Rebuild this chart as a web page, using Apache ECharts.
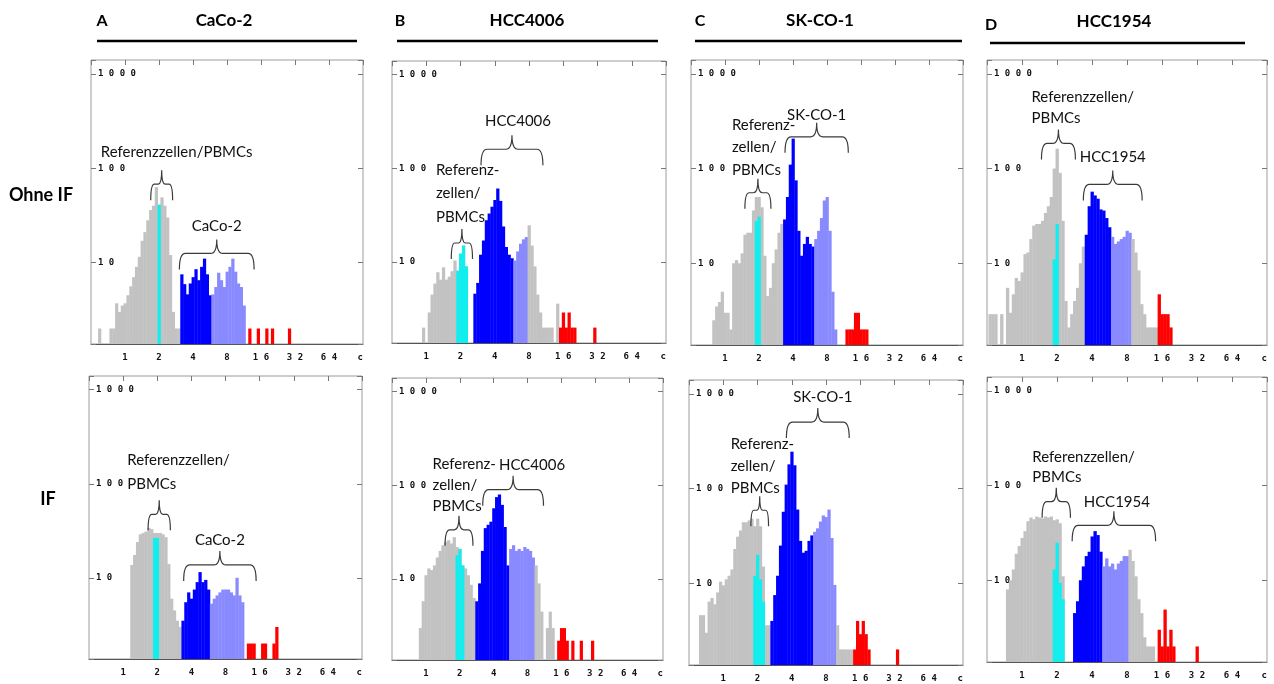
<!DOCTYPE html>
<html>
<head>
<meta charset="utf-8">
<script src="https://cdn.jsdelivr.net/npm/echarts@6/dist/echarts.min.js"></script>
<style>
  html, body { margin: 0; padding: 0; background: #fff; }
  #chart { width: 1274px; height: 684px; }
</style>
</head>
<body>
<div id="chart"></div>
<script>
// histogram bins are 1/12 octave wide: bin k sits at c = 2^(k/12)
const countsA1 = [2,0,0,0,2,2,3.7,3,3.5,3.7, 4.5,5.6,7,9,11.5,17,21,28,36,40, 63,41,49,40,30,12,3,2,2,7.5, 5.9,4.6,6,7,8.5,6.5,9,11,7.5,4.5, 4.6,5.5,7.8,6.5,5.5,8,9,11,8,6, 5.5,3.5,0,2,0,0,2,0,0,2, 0,2,0,0,0,0,0,2]
const countsA2 = [13.7,17.5,24,29,30,31,34,33,30,30, 30,29,27,14,6,4.5,3.5,3,3.5,5.5, 7,6,7.5,9,11.5,9,9.5,7.5,5.3,6, 6.5,7,7.5,7.5,7.5,7,6.5,10,6.5,5.5, 0,2,2,2,0,0,2,2,0,0, 2,3]
const countsB1 = [2,0,2.9,4.5,5.9,7.8,6.5,8.8,6.5,7, 8,10.4,8.1,12.3,15,9,0,0,4.6,6, 12,17,28,33,39,46,61,45,24,14.5, 12,11,10.4,13,15.7,17.5,18.5,24.7,15,9, 4.5,2.9,2,2,2,2,0,3.6,2,2.9, 2,2.9,2,2,0,0,0,0,0,0, 2]
const countsB2 = [3,5.8,11,13,12.5,14,17,20,23,25, 26,24,28,22,21,14,13,11,8.7,6.3, 5.8,9,20,35,38,41,57,75,80,62, 36,14,21,23,20,21,20,22,21,20, 17,14,9,4.5,0,3,4.5,3,0,2.2, 3,3,2.2,0,2.2,0,0,2.2,0,0, 0,2.2]
const countsC1 = [2.5,3.5,3.9,5,3,3,2,10,10.8,10, 12.7,20,21,21,36,50,50,39,12,4.5, 5.5,10,14,21,26,29,50,110,207,75, 22,12,16,19,16,15,18,22,30,46, 50,22,5,2,0,0,0,2,2,2, 3,3,2,2,2]
const countsC2 = [4.6,4.6,3,6.4,7,6,8,10.4,9.5,11, 12,14,23,31,36,44,44,46,48,40, 48,40,15,3.6,3.6,4,7.5,12,25,57, 110,180,245,176,60,28,21,22,28,32, 35,38,45,52,50,60,30,9.6,3.6,2, 2,2,2,2,2,4,2.9,4,2.9,2, 0,0,0,0,0,0,0,0,0,2]
const countsD1 = [2.9,2.9,2.9,0,2.9,0,5.5,3,4.7,7, 6.5,8,12.5,13,18,25,26,26,28,34, 40,50,100,162,90,28,4,2.1,2.9,4, 5.5,10,15,20,40,57,52,48,37,36, 30,24,19,16,17,18,19,22,21,18, 13,8.4,3.7,2.9,2.1,2.1,2.1,2.1,4.7,2.9, 2.9,2.9,2.1]
const countsD2 = [8,10,13,19,23,28,33,42,46,44, 47,46,45,47,46,47,43,44,40,11, 0,0,0,4.5,6,10,14,18,20,29, 33,30,20,14,17,14,15,13,15,16, 18,18,21,16,11,6.3,4.5,2.5,2,2, 2,0,3,2,4.9,2,3,2,0,0, 0,0,0,0,0,2]

// reference cells (cyan), drawn in front
const cyanA1 = [41]
const cyanA2 = [26.6, 26.6]
const cyanB1 = [8.1, 12.3, 15, 9]
const cyanB2 = [18, 21, 14]
const cyanC1 = [28, 31]
const cyanC2 = [12, 20, 11, 6.4]
const cyanD1 = [11, 26]
const cyanD2 = [13, 25, 9.4, 6.3]

const panelCounts = [countsA1, countsA2, countsB1, countsB2, countsC1, countsC2, countsD1, countsD2]
const panelCyan = [cyanA1, cyanA2, cyanB1, cyanB2, cyanC1, cyanC2, cyanD1, cyanD2]
const binStart = [-9, 3, -1, -2, -4, -8, -11, -5]
const cyanStart = [12, 11, 11, 11, 11, 11, 11, 11]
const blueBins = [[20, 30], [21, 30], [17, 30], [18, 29], [21, 31], [17, 31], [22, 30], [18, 27]]
const lightBins = [[31, 42], [31, 42], [31, 35], [30, 38], [32, 39], [32, 39], [31, 37], [28, 36]]
const redFrom = [43, 43, 47, 47, 43, 46, 47, 47]

const xTicks = [1, 2, 4, 8, 16, 32, 64]
const yTicks = [10, 100, 1000]

// brace annotations: c range, count level, label
const bracesA1 = [
  {c1: 1.69, c2: 2.64, y: 67.7, lines: ['Referenzzellen/PBMCs'], align: 'center', dx: 15, dy: -32},
  {c1: 3.03, c2: 13.9, y: 12.5, lines: ['CaCo-2'], align: 'center', dx: 0, dy: -27}
]
const bracesA2 = [
  {c1: 1.66, c2: 2.61, y: 47.3, lines: ['Referenzzellen/', 'PBMCs'], align: 'left', dx: -32, dy: -30, lh: 24},
  {c1: 3.42, c2: 14.9, y: 13.7, lines: ['CaCo-2'], align: 'center', dx: 0, dy: -25}
]
const bracesB1 = [
  {c1: 3.03, c2: 10.6, y: 160, lines: ['HCC4006'], align: 'center', dx: 6, dy: -28},
  {c1: 1.66, c2: 2.55, y: 16, lines: ['Referenz-', 'zellen/', 'PBMCs'], align: 'left', dx: -26, dy: -26, lh: 23.5}
]
const bracesB2 = [
  {c1: 1.48, c2: 2.62, y: 33.6, lines: ['Referenz-', 'zellen/', 'PBMCs'], align: 'left', dx: -26.5, dy: -24, lh: 21},
  {c1: 3.2, c2: 11.1, y: 90, lines: ['HCC4006'], align: 'center', dx: 19, dy: -25}
]
const bracesC1 = [
  {c1: 3.4, c2: 12.35, y: 216, lines: ['SK-CO-1'], align: 'center', dx: 0, dy: -22},
  {c1: 1.5, c2: 2.55, y: 55.5, lines: ['Referenz-', 'zellen/', 'PBMCs'], align: 'left', dx: -26, dy: -23, lh: 22.5}
]
const bracesC2 = [
  {c1: 3.59, c2: 12.8, y: 503, lines: ['SK-CO-1'], align: 'center', dx: 5, dy: -25},
  {c1: 1.75, c2: 2.5, y: 59, lines: ['Referenz-', 'zellen/', 'PBMCs'], align: 'left', dx: -29, dy: -22, lh: 22}
]
const bracesD1 = [
  {c1: 1.47, c2: 2.88, y: 184, lines: ['Referenzzellen/', 'PBMCs'], align: 'left', dx: -27, dy: -25, lh: 21.7},
  {c1: 3.37, c2: 10.8, y: 68, lines: ['HCC1954'], align: 'center', dx: 0, dy: -27}
]
const bracesD2 = [
  {c1: 1.49, c2: 2.61, y: 67.5, lines: ['Referenzzellen/', 'PBMCs'], align: 'left', dx: -24, dy: -25, lh: 20},
  {c1: 2.7, c2: 14.1, y: 38, lines: ['HCC1954'], align: 'center', dx: 3, dy: -23}
]
const panelBraces = [bracesA1, bracesA2, bracesB1, bracesB2, bracesC1, bracesC2, bracesD1, bracesD2]

const columnLetters = ['A', 'B', 'C', 'D']
const columnTitles = ['CaCo-2', 'HCC4006', 'SK-CO-1', 'HCC1954']
const rowTitles = ['Ohne IF', 'IF']

// layout (pixels)
const gridBoxes = [
  [91, 60, 272, 284], [89, 376, 273, 283],
  [392, 61, 274, 282], [392, 378, 271, 282],
  [691, 60, 272, 285], [689, 380, 274, 285],
  [987, 60, 280, 285], [987, 377, 280, 285]
]
const headerPos = [
  {letter: [102, 21], title: [224, 21], line: [97, 357, 41]},
  {letter: [400, 21], title: [527, 21], line: [397, 658, 41]},
  {letter: [700, 21], title: [820, 21], line: [695, 962, 41]},
  {letter: [991, 25], title: [1114, 22], line: [990, 1245, 43]}
]
const rowPos = [[41, 195], [48, 499]]

const COLORS = ['#c2c2c2', '#12eeee', '#0000ff', '#8a8aff', '#ff0000']
const HALF_BIN = Math.pow(2, 1 / 24)
const Y_MIN = 1.37, Y_MAX = 1400
const SPIKE = 14, DROP = 16

function binData(i) {
  const out = []
  panelCounts[i].forEach((v, j) => {
    if (!v) return
    const k = binStart[i] + j
    let code = 0
    if (k >= blueBins[i][0] && k <= blueBins[i][1]) code = 2
    else if (k >= lightBins[i][0] && k <= lightBins[i][1]) code = 3
    else if (k >= redFrom[i]) code = 4
    out.push([Math.pow(2, k / 12), v, code])
  })
  return out
}

function cyanData(i) {
  return panelCyan[i].map((v, j) => [Math.pow(2, (cyanStart[i] + j) / 12), v, 1])
}

function renderBin(params, api) {
  const c = api.value(0), v = api.value(1)
  const p0 = api.coord([c / HALF_BIN, v])
  const p1 = api.coord([c * HALF_BIN, v])
  const cs = params.coordSys
  return {
    type: 'rect',
    shape: {x: p0[0], y: p0[1], width: p1[0] - p0[0] + 0.4, height: cs.y + cs.height - p0[1]},
    style: {fill: COLORS[api.value(2)]}
  }
}

function renderBrace(specs) {
  return function (params, api) {
    const s = specs[api.value(3)]
    const a = api.coord([api.value(0), api.value(2)])
    const b = api.coord([api.value(1), api.value(2)])
    const x1 = a[0], x2 = b[0], y = a[1], xm = (x1 + x2) / 2
    const r = Math.min(6, (x2 - x1) / 6)
    const d = 'M' + x1 + ' ' + (y + DROP) + ' Q' + x1 + ' ' + y + ' ' + (x1 + r) + ' ' + y +
      ' L' + (xm - r) + ' ' + y + ' Q' + xm + ' ' + y + ' ' + xm + ' ' + (y - SPIKE) +
      ' Q' + xm + ' ' + y + ' ' + (xm + r) + ' ' + y +
      ' L' + (x2 - r) + ' ' + y + ' Q' + x2 + ' ' + y + ' ' + x2 + ' ' + (y + DROP)
    const lh = s.lh || 20
    return {
      type: 'group',
      children: [
        {type: 'path', shape: {pathData: d}, style: {fill: 'none', stroke: '#3a3a3a', lineWidth: 1.2}},
        {
          type: 'text', x: xm + s.dx, y: y + s.dy + lh / 2,
          style: {text: s.lines.join('\n'), font: '15px Lato', fill: '#111', align: s.align, verticalAlign: 'bottom', lineHeight: lh}
        }
      ]
    }
  }
}

const spaced = v => String(Math.round(v)).split('').join(' ')
const tickFont = {fontFamily: 'DejaVu Sans Mono', fontSize: 9, fontWeight: 'bold', color: '#111'}

const option = {animation: false, grid: [], xAxis: [], yAxis: [], series: [], graphic: []}

gridBoxes.forEach((g, i) => {
  option.grid.push({left: g[0], top: g[1], width: g[2], height: g[3], show: true, borderColor: '#9c9c9c', borderWidth: 1})

  option.xAxis.push({
    gridIndex: i, type: 'log', logBase: 2, min: 0.5, max: 128, position: 'bottom',
    axisLine: {show: true, lineStyle: {color: '#555'}},
    axisTick: {show: false}, splitLine: {show: false},
    axisLabel: Object.assign({
      margin: 9, alignMaxLabel: 'right',
      formatter: v => v > 100 ? 'c' : (xTicks.some(t => Math.abs(t - v) < 0.01) ? spaced(v) : '')
    }, tickFont)
  })
  option.xAxis.push({
    gridIndex: i, type: 'log', logBase: 2, min: 0.5, max: 128, position: 'top',
    axisLine: {show: false}, axisLabel: {show: false}, splitLine: {show: false},
    axisTick: {inside: true, length: 5, lineStyle: {color: '#777'}}
  })
  option.yAxis.push({
    gridIndex: i, type: 'log', min: Y_MIN, max: Y_MAX, position: 'left',
    axisLine: {show: false}, splitLine: {show: false},
    axisTick: {inside: true, length: 5, lineStyle: {color: '#777'}},
    axisLabel: Object.assign({
      inside: true, margin: 7,
      formatter: v => yTicks.some(t => Math.abs(t - v) / t < 0.01) ? spaced(v) : ''
    }, tickFont)
  })
  option.yAxis.push({
    gridIndex: i, type: 'log', min: Y_MIN, max: Y_MAX, position: 'right',
    axisLine: {show: false}, axisLabel: {show: false}, splitLine: {show: false},
    axisTick: {inside: true, length: 5, lineStyle: {color: '#777'}}
  })

  const common = {type: 'custom', xAxisIndex: 2 * i, yAxisIndex: 2 * i, silent: true}
  option.series.push(Object.assign({name: 'cells' + i, data: binData(i), encode: {x: 0, y: 1}, renderItem: renderBin}, common))
  option.series.push(Object.assign({name: 'ref' + i, data: cyanData(i), encode: {x: 0, y: 1}, renderItem: renderBin}, common))
  option.series.push(Object.assign({
    name: 'brace' + i,
    data: panelBraces[i].map((b, j) => [b.c1, b.c2, b.y, j]),
    encode: {x: [0, 1], y: 2},
    renderItem: renderBrace(panelBraces[i])
  }, common))
})

headerPos.forEach((h, i) => {
  option.graphic.push({type: 'text', x: h.letter[0], y: h.letter[1], style: {text: columnLetters[i], font: 'bold 16px Lato', fill: '#000', align: 'center', verticalAlign: 'middle'}})
  option.graphic.push({type: 'text', x: h.title[0], y: h.title[1], style: {text: columnTitles[i], font: 'bold 17px Lato', fill: '#000', align: 'center', verticalAlign: 'middle'}})
  option.graphic.push({type: 'line', shape: {x1: h.line[0], y1: h.line[2], x2: h.line[1], y2: h.line[2]}, style: {stroke: '#000', lineWidth: 2.5}})
})
rowPos.forEach((p, i) => {
  option.graphic.push({type: 'text', x: p[0], y: p[1], style: {text: rowTitles[i], font: 'bold 18px Lato', fill: '#000', align: 'center', verticalAlign: 'middle'}})
})

const chart = echarts.init(document.getElementById('chart'))
chart.setOption(option)
</script>
</body>
</html>
